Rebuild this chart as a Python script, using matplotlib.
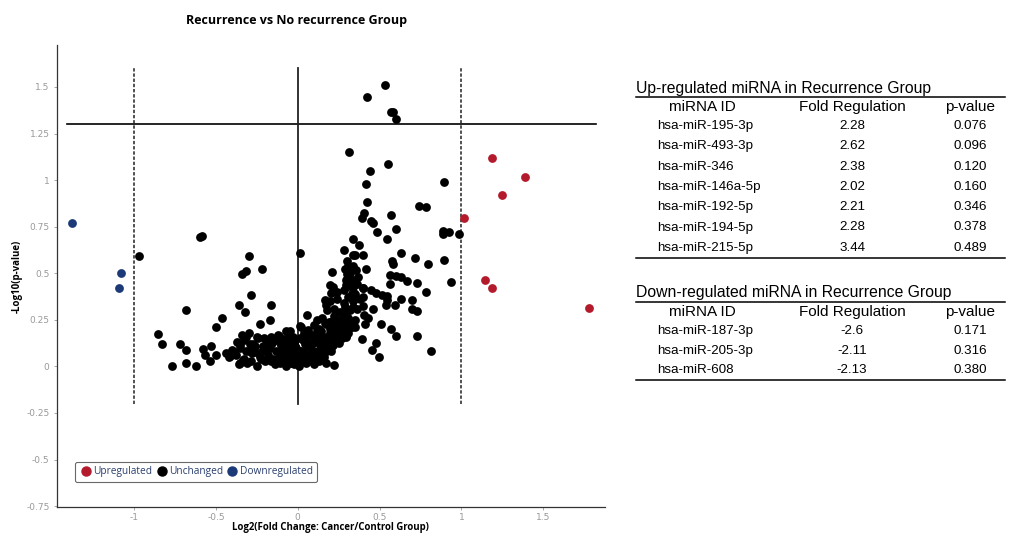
import numpy as np
import matplotlib
matplotlib.use("Agg")
import matplotlib.pyplot as plt
from matplotlib.lines import Line2D

# ---- table data (up / down regulated miRNAs) ----
up_ids = ["hsa-miR-195-3p", "hsa-miR-493-3p", "hsa-miR-346", "hsa-miR-146a-5p",
          "hsa-miR-192-5p", "hsa-miR-194-5p", "hsa-miR-215-5p"]
up_fold = [2.28, 2.62, 2.38, 2.02, 2.21, 2.28, 3.44]
up_pval = [0.076, 0.096, 0.120, 0.160, 0.346, 0.378, 0.489]

down_ids = ["hsa-miR-187-3p", "hsa-miR-205-3p", "hsa-miR-608"]
down_fold = [-2.6, -2.11, -2.13]
down_pval = [0.171, 0.316, 0.380]

# ---- unchanged miRNAs: (log2 fold change, -log10 p) ----
unchanged_x = [
    0.426, 0.534, 0.570, 0.580, 0.603, 0.314, 0.442, 0.550, 0.420, 0.895,
    0.426, 0.408, 0.393, 0.450, 0.459, 0.573, 0.740, 0.781, 0.487, 0.603,
    0.544, 0.885, 0.885, 0.926, 0.987, 0.340, 0.373, 0.283, 0.336, 0.349,
    0.400, 0.014, -0.296, 0.630, 0.718, 0.797, 0.891, 0.577, 0.581, 0.300,
    0.308, 0.359, 0.420, 0.210, 0.290, 0.300, -0.338, -0.314, -0.218, 0.565,
    0.599, 0.634, 0.665, 0.728, 0.936, 0.565, 0.294, 0.338, 0.198, 0.214,
    0.296, 0.338, 0.400, 0.450, 0.481, 0.512, 0.546, 0.781, 0.336, 0.349,
    0.202, -0.285, 0.398, 0.544, 0.542, 0.630, 0.697, 0.697, 0.730, 0.597,
    0.165, 0.175, 0.338, 0.338, -0.165, -0.359, -0.324, 0.396, 0.461, -0.463,
    -0.499, -0.228, -0.167, 0.057, 0.294, 0.298, 0.406, 0.430, 0.410, 0.508,
    0.569, 0.603, 0.728, 0.815, 0.393, 0.455, 0.481, 0.495, 0.349, 0.298,
    0.222, 0.012, -0.049, -0.116,
    -0.972, -0.597, -0.587,
    -0.851, -0.829, -0.771, -0.718, -0.684, -0.680, -0.620, -0.684, -0.576, -0.528,
    -0.566, -0.538, -0.500, -0.436, -0.416, -0.355,
    # dense cluster near the origin
    -0.36, -0.31, -0.25, -0.20, -0.14, -0.11, -0.07, -0.04, -0.02, 0.01, 0.05, 0.10, 0.13,
    -0.42, -0.38, -0.33, -0.28, -0.23, -0.18, -0.15, -0.10, -0.06, -0.03, 0.00, 0.03, 0.07, 0.12, 0.16,
    -0.40, -0.35, -0.30, -0.26, -0.21, -0.17, -0.13, -0.09, -0.05, -0.01, 0.02, 0.06, 0.09, 0.14, 0.18, 0.21,
    -0.37, -0.33, -0.29, -0.24, -0.19, -0.14, -0.10, -0.06, -0.02, 0.03, 0.08, 0.11, 0.15, 0.19, 0.23, 0.27,
    -0.34, -0.30, -0.25, -0.12, -0.07, -0.03, 0.04, 0.08, 0.12, 0.16, 0.20, 0.24, 0.28, 0.31,
    0.02, 0.10, 0.13, 0.17, 0.21, 0.24, 0.27, 0.30, 0.33,
    0.12, 0.15, 0.19, 0.22, 0.25, 0.28, 0.31, 0.35,
    0.18, 0.22, 0.26, 0.29, 0.32, 0.36,
    0.20, 0.24, 0.28, 0.31, 0.34, 0.38,
    0.24, 0.28, 0.31, 0.33, 0.36, 0.40,
    0.30, 0.32, 0.34, 0.37,
    # second, offset layer of the dense cluster
    -0.335, -0.285, -0.225, -0.165, -0.125, -0.085, -0.035, 0.015, 0.045, 0.085, 0.115, 0.175,
    -0.395, -0.315, -0.245, -0.195, -0.115, -0.075, -0.045, 0.005, 0.035, 0.075, 0.125, 0.165, 0.205,
    -0.355, -0.275, -0.215, -0.155, -0.105, -0.055, -0.015, 0.045, 0.095, 0.135, 0.175, 0.215, 0.255,
    -0.315, -0.205, -0.165, -0.085, -0.045, 0.015, 0.055, 0.105, 0.145, 0.185, 0.225, 0.265, 0.295,
    0.065, 0.145, 0.195, 0.235, 0.265, 0.305,
    0.165, 0.205, 0.245, 0.275, 0.335,
]
unchanged_y = [
    1.448, 1.513, 1.367, 1.367, 1.326, 1.151, 1.048, 1.084, 0.977, 0.989,
    0.880, 0.821, 0.794, 0.780, 0.772, 0.812, 0.860, 0.853, 0.719, 0.735,
    0.683, 0.726, 0.708, 0.720, 0.713, 0.683, 0.650, 0.624, 0.600, 0.600,
    0.600, 0.606, 0.595, 0.606, 0.582, 0.552, 0.570, 0.565, 0.552, 0.565,
    0.538, 0.516, 0.525, 0.505, 0.520, 0.498, 0.498, 0.513, 0.520, 0.489,
    0.486, 0.480, 0.459, 0.450, 0.453, 0.444, 0.462, 0.462, 0.435, 0.427,
    0.435, 0.427, 0.419, 0.412, 0.394, 0.384, 0.380, 0.400, 0.400, 0.391,
    0.396, 0.382, 0.373, 0.355, 0.328, 0.360, 0.358, 0.310, 0.297, 0.331,
    0.355, 0.328, 0.355, 0.319, 0.331, 0.328, 0.294, 0.324, 0.308, 0.260,
    0.211, 0.229, 0.251, 0.278, 0.305, 0.292, 0.274, 0.260, 0.229, 0.229,
    0.203, 0.161, 0.161, 0.082, 0.145, 0.086, 0.127, 0.050, 0.211, 0.163,
    0.009, 0.217, 0.188, 0.163,
    0.591, 0.692, 0.701,
    0.176, 0.122, 0.004, 0.118, 0.086, 0.016, 0.004, 0.301, 0.095, 0.108,
    0.059, 0.029, 0.060, 0.072, 0.054, 0.018,
    0.01, 0.02, 0.00, 0.03, 0.01, 0.02, 0.00, 0.02, 0.01, 0.00, 0.02, 0.01, 0.03,
    0.05, 0.06, 0.04, 0.07, 0.05, 0.06, 0.04, 0.07, 0.05, 0.06, 0.04, 0.07, 0.05, 0.06, 0.05,
    0.09, 0.10, 0.08, 0.11, 0.09, 0.10, 0.08, 0.11, 0.09, 0.10, 0.08, 0.11, 0.09, 0.10, 0.09, 0.11,
    0.13, 0.14, 0.12, 0.15, 0.13, 0.14, 0.12, 0.15, 0.13, 0.14, 0.12, 0.15, 0.13, 0.14, 0.13, 0.15,
    0.17, 0.18, 0.16, 0.17, 0.19, 0.16, 0.18, 0.17, 0.19, 0.16, 0.18, 0.17, 0.19, 0.18,
    0.21, 0.22, 0.20, 0.23, 0.21, 0.22, 0.20, 0.23, 0.21,
    0.25, 0.26, 0.24, 0.27, 0.25, 0.28, 0.26, 0.25,
    0.30, 0.31, 0.29, 0.32, 0.30, 0.31,
    0.35, 0.36, 0.34, 0.37, 0.35, 0.36,
    0.40, 0.41, 0.43, 0.39, 0.44, 0.42,
    0.47, 0.50, 0.54, 0.48,
    0.035, 0.030, 0.040, 0.030, 0.040, 0.035, 0.030, 0.040, 0.035, 0.030, 0.040, 0.020,
    0.075, 0.080, 0.070, 0.085, 0.075, 0.080, 0.070, 0.080, 0.075, 0.070, 0.085, 0.075, 0.080,
    0.115, 0.120, 0.110, 0.125, 0.115, 0.120, 0.110, 0.120, 0.125, 0.115, 0.120, 0.115, 0.125,
    0.155, 0.150, 0.160, 0.145, 0.155, 0.150, 0.160, 0.150, 0.155, 0.160, 0.150, 0.155, 0.160,
    0.195, 0.190, 0.200, 0.195, 0.190, 0.200,
    0.235, 0.240, 0.230, 0.240, 0.235,
]

RED = "#b31b2c"
BLUE = "#1d3a78"
TXT_BLUE = "#2a3f6e"

up_x = np.log2(up_fold)
up_y = -np.log10(up_pval)
down_x = -np.log2(np.abs(down_fold))
down_y = -np.log10(down_pval)

fig = plt.figure(figsize=(10.17, 5.36), dpi=100)
ax = fig.add_axes([0.0556, 0.0541, 0.5393, 0.8619])

ax.scatter(unchanged_x, unchanged_y, s=40, color="black", linewidths=0, zorder=3)
ax.scatter(up_x, up_y, s=40, color=RED, linewidths=0, zorder=3)
ax.scatter(down_x, down_y, s=40, color=BLUE, linewidths=0, zorder=3)

# threshold lines
ax.plot([-1.41, 1.82], [1.3, 1.3], color="black", lw=1.2, zorder=2)
ax.plot([0, 0], [-0.2, 1.6], color="#222222", lw=1.3, zorder=2)
for xv in (-1, 1):
    ax.plot([xv, xv], [-0.2, 1.6], color="#222222", lw=1.1, ls=(0, (2.2, 1.2)), zorder=2)

ax.set_xlim(-1.474, 1.878)
ax.set_ylim(-0.755, 1.725)
ax.set_xticks([-1, -0.5, 0, 0.5, 1, 1.5])
ax.set_xticklabels(["-1", "-0.5", "0", "0.5", "1", "1.5"])
yt = [-0.75, -0.5, -0.25, 0, 0.25, 0.5, 0.75, 1, 1.25, 1.5]
ax.set_yticks(yt)
ax.set_yticklabels(["-0.75", "-0.5", "-0.25", "0", "0.25", "0.5", "0.75", "1", "1.25", "1.5"])
ax.tick_params(labelsize=6.5, colors="#999999", length=2, width=0.6, pad=3)
ax.tick_params(axis="x", pad=2)
for s in ("top", "right"):
    ax.spines[s].set_visible(False)
for s in ("left", "bottom"):
    ax.spines[s].set_color("#333333")
    ax.spines[s].set_linewidth(0.9)

ax.set_xlabel("Log2(Fold Change: Cancer/Control Group)", fontsize=6.9, fontweight="bold",
              family="Open Sans", labelpad=0.5)
ax.set_ylabel("-Log10(p-value)", fontsize=7, fontweight="bold", family="Open Sans")
ax.yaxis.set_label_coords(-0.062, 0.5)
fig.text(0.292, 0.962, "Recurrence vs No recurrence Group", fontsize=9, fontweight="bold",
         family="Open Sans", ha="center", va="center")

handles = [Line2D([], [], marker="o", ls="", color=c, markersize=6.5, label=l)
           for c, l in [(RED, "Upregulated"), ("black", "Unchanged"), (BLUE, "Downregulated")]]
leg = ax.legend(handles=handles, loc="lower left", bbox_to_anchor=(0.034, 0.054),
                borderaxespad=0, ncol=3, handletextpad=0.1, columnspacing=0.35,
                handlelength=1.2, frameon=True, fancybox=True,
                prop={"family": "Open Sans", "size": 7.3}, borderpad=0.45)
leg.get_frame().set_edgecolor("#444444")
leg.get_frame().set_linewidth(0.8)
for t in leg.get_texts():
    t.set_color(TXT_BLUE)

# ---- tables drawn in pixel coordinates ----
tx = fig.add_axes([0.6, 0, 0.4, 1])
tx.set_xlim(610.2, 1017)
tx.set_ylim(536, 0)
tx.axis("off")

col_id, col_fold, col_p = 657, 852, 970
hdr_kw = dict(fontsize=11, family="Liberation Sans", va="center")
row_kw = dict(fontsize=9.6, family="Liberation Sans", va="center")


def draw_table(title, ids, folds, pvals, y_title, row_step):
    tx.text(636, y_title, title, ha="left", fontsize=11.3, family="Liberation Sans", va="center")
    tx.plot([636, 1005], [y_title + 9, y_title + 9], color="black", lw=1.1)
    y_hdr = y_title + 19
    tx.text(702, y_hdr, "miRNA ID", ha="center", **hdr_kw)
    tx.text(col_fold, y_hdr, "Fold Regulation", ha="center", **hdr_kw)
    tx.text(col_p, y_hdr, "p-value", ha="center", **hdr_kw)
    y = y_hdr + 19
    for i, (name, f, p) in enumerate(zip(ids, folds, pvals)):
        yy = y + i * row_step
        tx.text(col_id, yy, name, ha="left", **row_kw)
        tx.text(col_fold, yy, f"{f:g}", ha="center", **row_kw)
        tx.text(col_p, yy, f"{p:.3f}", ha="center", **row_kw)
    y_end = y + (len(ids) - 1) * row_step + 10
    tx.plot([636, 1005], [y_end, y_end], color="black", lw=1.1)


draw_table("Up-regulated miRNA in Recurrence Group", up_ids, up_fold, up_pval, 88, 20.3)
draw_table("Down-regulated miRNA in Recurrence Group", down_ids, down_fold, down_pval, 293, 19.7)

fig.savefig("out.png", dpi=100)
